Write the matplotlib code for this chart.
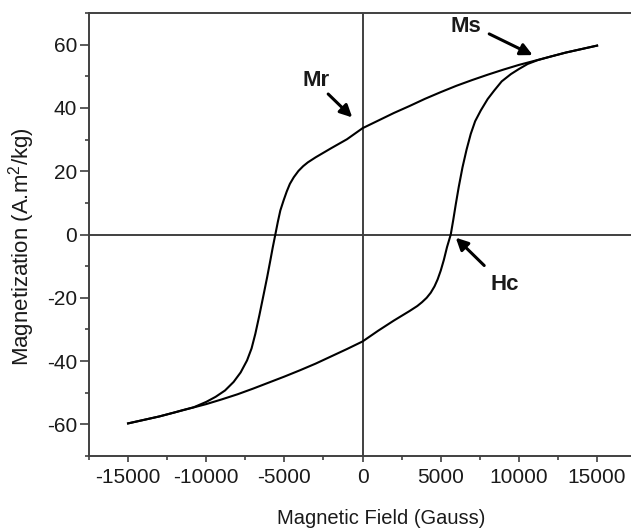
import matplotlib
matplotlib.use("Agg")
import matplotlib.pyplot as plt
from matplotlib.ticker import MultipleLocator

plt.rcParams['font.family'] = ['Liberation Sans', 'DejaVu Sans']
plt.rcParams['mathtext.fontset'] = 'custom'
plt.rcParams['mathtext.rm'] = 'Liberation Sans'
plt.rcParams['mathtext.it'] = 'Liberation Sans:italic'
plt.rcParams['mathtext.bf'] = 'Liberation Sans:bold'
plt.rcParams['axes.unicode_minus'] = False

# Descending branch (field decreasing from +15000 to -15000)
h_down = [15000, 14000, 13000, 12000, 11000, 10000, 9000, 8000, 7000, 6000,
          5000, 4000, 3000, 2000, 1000, 0, -1000, -2000, -3000, -3500,
          -3800, -4100, -4400, -4650, -4850, -5050, -5260, -5420, -5580, -5750, -5900,
          -6100, -6330, -6600, -6860, -7100, -7390, -7800, -8250, -8800, -9400,
          -10000, -10800, -11500, -12000, -13000, -14000, -15000]
m_down = [59.7, 58.6, 57.5, 56.2, 54.9, 53.6, 52.1, 50.5, 48.8, 47.0,
          45.0, 42.9, 40.6, 38.4, 36.0, 33.6, 30.1, 27.3, 24.4, 22.8,
          21.6, 20.1, 18.1, 16.0, 13.6, 10.8, 7.6, 4.0, 0.0, -4.2, -8.2,
          -13.4, -19.0, -25.5, -31.4, -36.0, -39.8, -43.6, -46.6, -49.3, -51.3,
          -52.9, -54.6, -55.5, -56.2, -57.5, -58.6, -59.7]

# Ascending branch (field increasing from -15000 to +15000)
h_up = [-15000, -14000, -13000, -12000, -11000, -10000, -9000, -8000, -7000, -6000,
        -5000, -4000, -3000, -2000, -1000, 0, 1000, 2000, 3000, 3500,
        3800, 4100, 4360, 4600, 4800, 5000, 5200, 5400, 5640, 5800, 5960,
        6150, 6390, 6650, 6920, 7200, 7560, 8000, 8420, 8900, 9490,
        10000, 10560, 11200, 12000, 13000, 14000, 15000]
m_up = [-59.7, -58.6, -57.5, -56.2, -54.9, -53.6, -52.1, -50.5, -48.7, -46.8,
        -44.9, -42.9, -40.8, -38.5, -36.2, -33.8, -30.4, -27.2, -24.2, -22.6,
        -21.4, -20.0, -18.4, -16.4, -14.2, -11.4, -8.0, -4.0, 0.0, 4.6, 9.5,
        15.0, 21.2, 26.8, 31.8, 35.8, 39.2, 42.8, 45.5, 48.4, 50.7,
        52.3, 53.9, 55.1, 56.2, 57.5, 58.6, 59.7]

x_ticks = [-15000, -10000, -5000, 0, 5000, 10000, 15000]
y_ticks = [-60, -40, -20, 0, 20, 40, 60]

# annotations: label, text position, arrow tail, arrow tip
ann_labels = ["Mr", "Ms", "Hc"]
ann_text = [(-2950, 48.6), (6580, 65.7), (9100, -15.8)]
ann_tail = [(-2200, 44.4), (8100, 63.4), (7780, -9.8)]
ann_tip = [(-660, 37.0), (10880, 56.7), (5960, -1.0)]

fig = plt.figure(figsize=(6.31, 5.29), dpi=100)
ax = fig.add_axes([0.1410, 0.1380, 0.8672, 0.8374])

spine_col = '#404040'
text_col = '#1a1a1a'

ax.axhline(0, color=spine_col, lw=1.4, zorder=1)
ax.axvline(0, color=spine_col, lw=1.4, zorder=1)

ax.plot(h_down, m_down, color='black', lw=1.5, zorder=3)
ax.plot(h_up, m_up, color='black', lw=1.5, zorder=3)

ax.set_xlim(-17500, 17500)
ax.set_ylim(-70, 70)
ax.set_xticks(x_ticks)
ax.set_yticks(y_ticks)
ax.xaxis.set_minor_locator(MultipleLocator(2500))
ax.yaxis.set_minor_locator(MultipleLocator(10))
ax.tick_params(which='both', direction='out', width=1.2, color=spine_col,
               labelsize=15, labelcolor=text_col)
ax.tick_params(axis='x', which='major', length=4.2, pad=4.5)
ax.tick_params(axis='x', which='minor', length=2.8)
ax.tick_params(axis='y', which='major', length=6.5, pad=2)
ax.tick_params(axis='y', which='minor', length=3)
ax.tick_params(top=False, right=False, which='both')
for s in ax.spines.values():
    s.set_color(spine_col)
    s.set_linewidth(1.4)

ax.set_xlabel("Magnetic Field (Gauss)", fontsize=14.5, color=text_col)
ax.set_ylabel(r"Magnetization (A.m$^2$/kg)", fontsize=16, color=text_col)
ax.xaxis.set_label_coords(0.534, -0.12)
ax.yaxis.set_label_coords(-0.095, 0.472)

for lab, tpos, tail, tip in zip(ann_labels, ann_text, ann_tail, ann_tip):
    ax.text(tpos[0], tpos[1], lab, fontsize=16, fontweight='bold', color=text_col,
            ha='center', va='center')
    ax.annotate("", xy=tip, xytext=tail,
                arrowprops=dict(arrowstyle='-|>', color='black', lw=2.2,
                                mutation_scale=18, shrinkA=0, shrinkB=0))

fig.savefig("out.png", dpi=100)
